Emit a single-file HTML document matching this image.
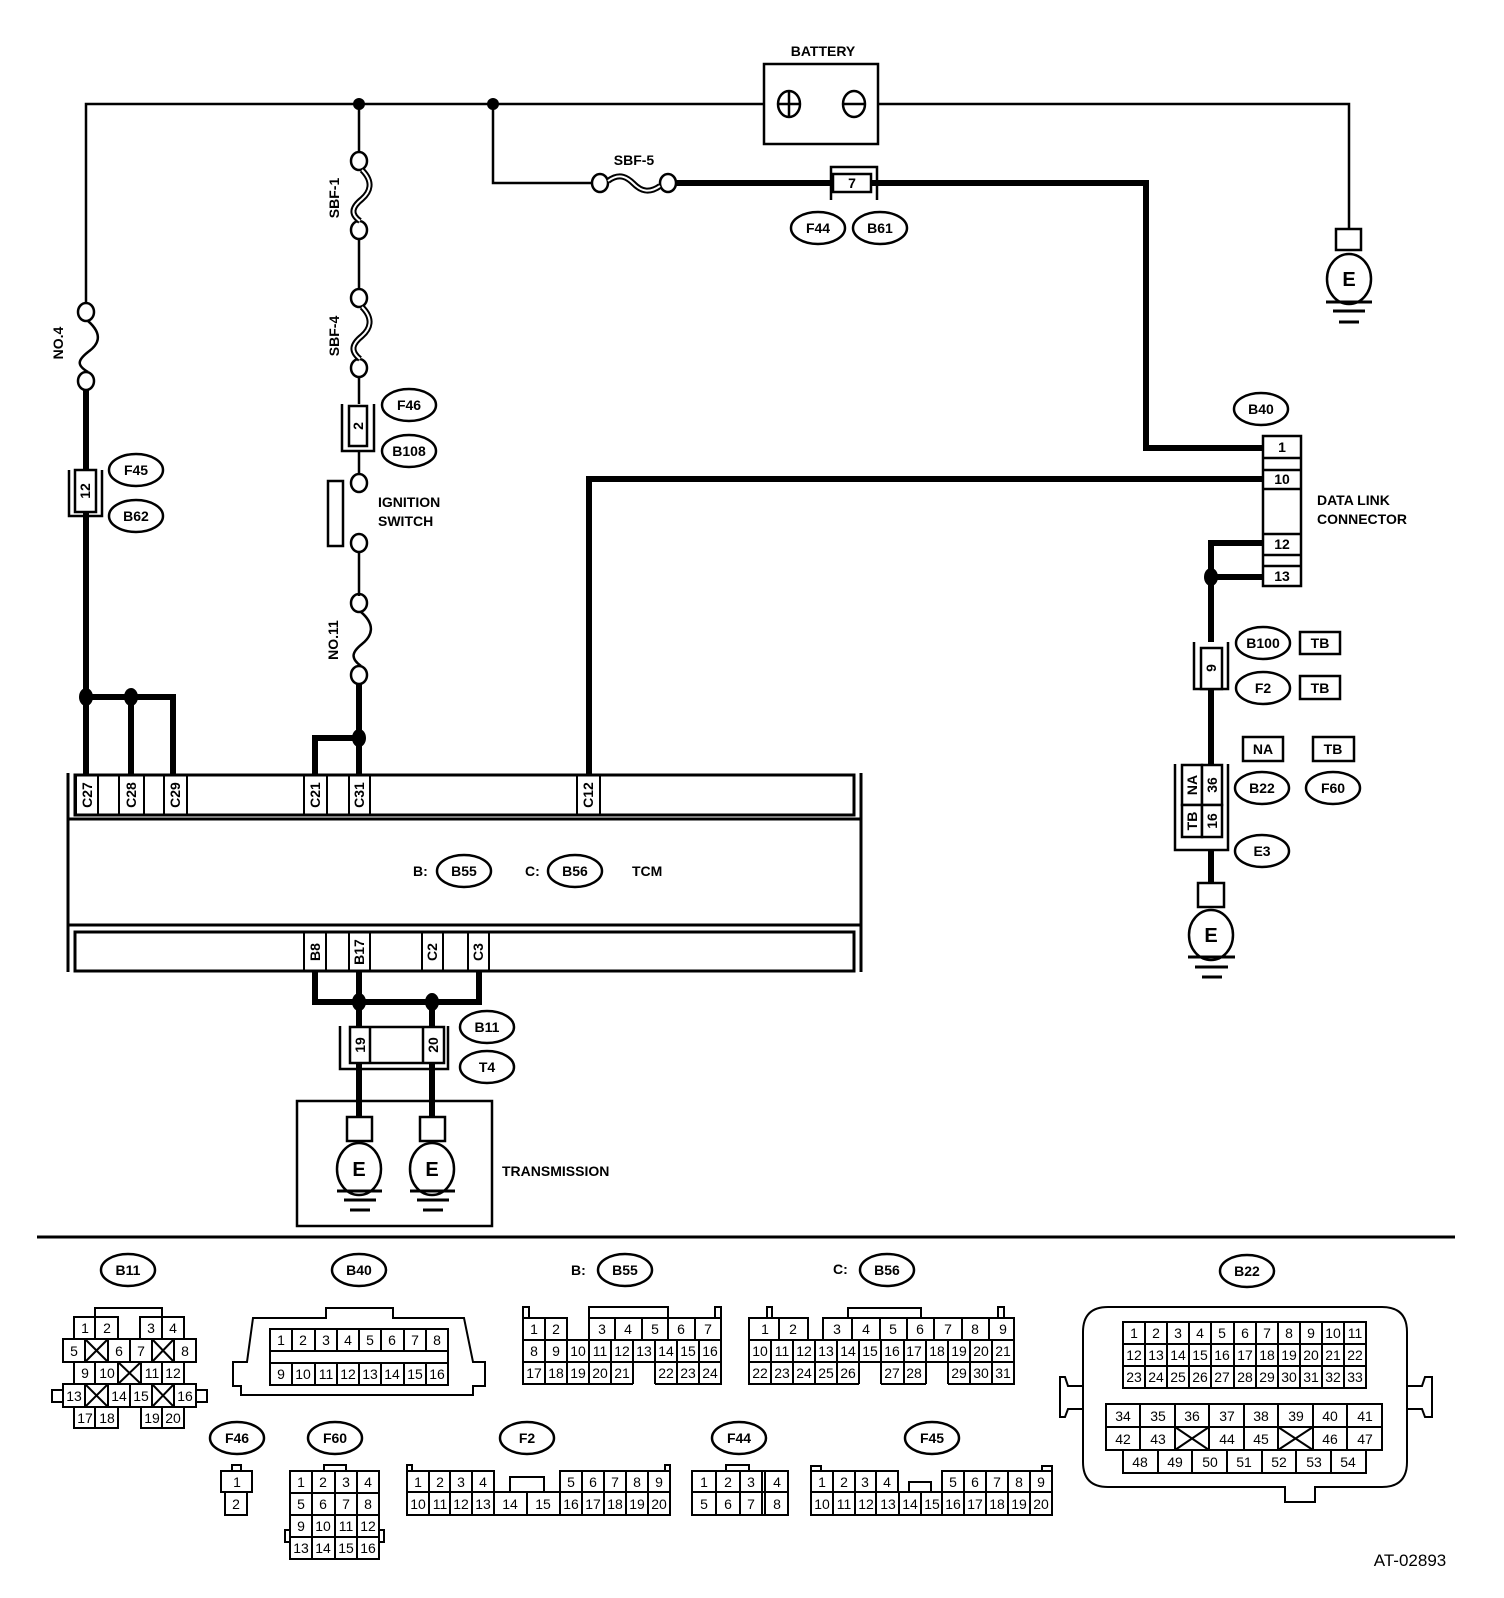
<!DOCTYPE html>
<html><head><meta charset="utf-8"><style>
html,body{margin:0;padding:0;background:#fff}
svg{display:block}
.s{font:bold 14px "Liberation Sans",sans-serif;fill:#000}
.n{font:14px "Liberation Sans",sans-serif;fill:#000;text-anchor:middle}
.c{text-anchor:middle}
</style></head><body>
<svg width="1504" height="1598" viewBox="0 0 1504 1598" xmlns="http://www.w3.org/2000/svg">
<g fill="none" stroke="#000" stroke-width="2.5">
<polyline points="86,304 86,104 764,104"/>
<polyline points="878,104 1349,104 1349,229"/>
<line x1="359" y1="104" x2="359" y2="153"/>
<line x1="359" y1="238" x2="359" y2="290"/>
<line x1="359" y1="376" x2="359" y2="404"/>
<line x1="359" y1="451" x2="359" y2="475"/>
<line x1="359" y1="551" x2="359" y2="596"/>
<polyline points="493,104 493,183 592,183"/>
<rect x="764" y="64" width="114" height="80"/>
<ellipse cx="789" cy="104" rx="11" ry="13"/>
<line x1="778" y1="104" x2="800" y2="104"/><line x1="789" y1="91" x2="789" y2="117"/>
<ellipse cx="854" cy="104" rx="11" ry="13"/>
<line x1="843" y1="104" x2="865" y2="104"/>
<ellipse cx="86" cy="312" rx="8" ry="9"/><ellipse cx="86" cy="381" rx="8" ry="9"/>
<path d="M88,321 C104,335 98,345 88,352 C78,360 76,365 88,372"/>
<ellipse cx="359" cy="161" rx="8" ry="9"/><ellipse cx="359" cy="230" rx="8" ry="9"/>
<ellipse cx="359" cy="298" rx="8" ry="9"/><ellipse cx="359" cy="368" rx="8" ry="9"/>
<ellipse cx="359" cy="603" rx="8" ry="9"/><ellipse cx="359" cy="675" rx="8" ry="9"/>
<path d="M361,612 C376,625 372,636 362,644 C352,652 350,658 361,666"/>
<ellipse cx="600" cy="183" rx="8" ry="9"/><ellipse cx="668" cy="183" rx="8" ry="9"/>
<ellipse cx="359" cy="483" rx="8" ry="9"/><ellipse cx="359" cy="543" rx="8" ry="9"/>
<rect x="328" y="481" width="15" height="65"/>
</g>
<g fill="none" stroke="#000" stroke-width="6">
<path d="M362,170 C374,182 370,192 362,199 C352,207 350,214 360,221"/>
<path d="M362,307 C374,319 370,329 362,336 C352,344 350,351 360,359"/>
<path d="M608,181 C620,172 628,178 634,184 C642,192 650,193 660,186"/>
</g>
<g fill="none" stroke="#fff" stroke-width="2">
<path d="M362,170 C374,182 370,192 362,199 C352,207 350,214 360,221"/>
<path d="M362,307 C374,319 370,329 362,336 C352,344 350,351 360,359"/>
<path d="M608,181 C620,172 628,178 634,184 C642,192 650,193 660,186"/>
</g>
<g fill="none" stroke="#000" stroke-width="6">
<line x1="86" y1="390" x2="86" y2="775"/>
<polyline points="86,697 173,697 173,775"/>
<line x1="131" y1="697" x2="131" y2="775"/>
<line x1="359" y1="684" x2="359" y2="775"/>
<polyline points="359,738 315,738 315,775"/>
<polyline points="589,775 589,479 1263,479"/>
<polyline points="676,183 1146,183 1146,448 1263,448"/>
<polyline points="1263,543 1211,543 1211,642"/>
<line x1="1211" y1="577" x2="1263" y2="577"/>
<line x1="1211" y1="689" x2="1211" y2="764"/>
<line x1="1211" y1="850" x2="1211" y2="883"/>
<polyline points="315,971 315,1002 432,1002"/>
<polyline points="359,971 359,1026"/>
<polyline points="479,971 479,1002 432,1002 432,1026"/>
<line x1="359" y1="1063" x2="359" y2="1117"/>
<line x1="432" y1="1063" x2="432" y2="1117"/>
</g>
<g fill="#000">
<circle cx="359" cy="104" r="6"/><circle cx="493" cy="104" r="6"/>
<ellipse cx="86" cy="697" rx="7" ry="9"/><ellipse cx="131" cy="697" rx="7" ry="9"/>
<ellipse cx="359" cy="738" rx="7" ry="9"/>
<ellipse cx="1211" cy="577" rx="7" ry="9"/>
<ellipse cx="359" cy="1002" rx="7" ry="9"/><ellipse cx="432" cy="1002" rx="7" ry="9"/>
</g>
<g fill="#fff" stroke="#000" stroke-width="2.5">
<polyline fill="none" points="69,470 69,516 102,516 102,470"/>
<rect x="75" y="470" width="21" height="42"/>
<polyline fill="none" points="342,404 342,451 374,451 374,404"/>
<rect x="349" y="406" width="18" height="40"/>
<polyline fill="none" points="831,200 831,167 877,167 877,200"/>
<rect x="833" y="174" width="38" height="18"/>
<polyline fill="none" points="1194,642 1194,689 1228,689 1228,642"/>
<rect x="1201" y="648" width="21" height="41"/>
<polyline fill="none" points="1175,764 1175,850 1228,850 1228,764"/>
<rect x="1182" y="765" width="20" height="40"/><rect x="1202" y="765" width="20" height="40"/>
<rect x="1182" y="805" width="20" height="32"/><rect x="1202" y="805" width="20" height="32"/>
<polyline fill="none" points="340,1026 340,1069 448,1069 448,1026"/>
<rect x="350" y="1027" width="94" height="36"/>
<line x1="370" y1="1027" x2="370" y2="1063"/><line x1="423" y1="1027" x2="423" y2="1063"/>
<rect x="1263" y="436" width="38" height="150"/>
<line x1="1263" y1="458" x2="1301" y2="458"/><line x1="1263" y1="470" x2="1301" y2="470"/>
<line x1="1263" y1="489" x2="1301" y2="489"/><line x1="1263" y1="534" x2="1301" y2="534"/>
<line x1="1263" y1="555" x2="1301" y2="555"/><line x1="1263" y1="566" x2="1301" y2="566"/>
<rect x="1336" y="229" width="25" height="21"/>
<ellipse cx="1349" cy="279" rx="22" ry="25"/>
<rect x="1198" y="883" width="26" height="24"/>
<ellipse cx="1211" cy="935" rx="22" ry="25"/>
<rect x="297" y="1101" width="195" height="125" fill="none"/>
<rect x="347" y="1117" width="25" height="24"/>
<ellipse cx="359" cy="1169" rx="22" ry="26"/>
<rect x="420" y="1117" width="25" height="24"/>
<ellipse cx="432" cy="1169" rx="22" ry="26"/>
</g>
<g stroke="#000" stroke-width="3">
<line x1="1326" y1="302" x2="1372" y2="302"/><line x1="1333" y1="311" x2="1365" y2="311"/><line x1="1339" y1="322" x2="1359" y2="322"/>
<line x1="1188" y1="957" x2="1235" y2="957"/><line x1="1195" y1="967" x2="1228" y2="967"/><line x1="1202" y1="977" x2="1222" y2="977"/>
<line x1="337" y1="1191" x2="382" y2="1191"/><line x1="344" y1="1200" x2="376" y2="1200"/><line x1="350" y1="1210" x2="370" y2="1210"/>
<line x1="410" y1="1191" x2="455" y2="1191"/><line x1="417" y1="1200" x2="449" y2="1200"/><line x1="423" y1="1210" x2="443" y2="1210"/>
<line x1="37" y1="1237" x2="1455" y2="1237"/>
</g>
<g fill="none" stroke="#000" stroke-width="3">
<line x1="68" y1="773" x2="68" y2="972"/><line x1="861" y1="773" x2="861" y2="972"/>
<rect x="75" y="775" width="779" height="40"/>
<line x1="68" y1="819" x2="861" y2="819"/><line x1="68" y1="925" x2="861" y2="925"/>
<rect x="75" y="932" width="779" height="39"/>
</g>
<g fill="none" stroke="#000" stroke-width="2">
<rect x="76" y="775" width="22" height="40"/><rect x="119" y="775" width="25" height="40"/><rect x="164" y="775" width="23" height="40"/>
<rect x="304" y="775" width="23" height="40"/><rect x="349" y="775" width="21" height="40"/><rect x="577" y="775" width="23" height="40"/>
<rect x="304" y="932" width="22" height="39"/><rect x="349" y="932" width="21" height="39"/><rect x="422" y="932" width="21" height="39"/><rect x="468" y="932" width="21" height="39"/>
</g>
<g fill="none" stroke="#000" stroke-width="2.5">
<ellipse cx="136" cy="470" rx="27" ry="16"/><ellipse cx="136" cy="516" rx="27" ry="16"/>
<ellipse cx="409" cy="405" rx="27" ry="16"/><ellipse cx="409" cy="451" rx="27" ry="16"/>
<ellipse cx="818" cy="228" rx="27" ry="16"/><ellipse cx="880" cy="228" rx="27" ry="16"/>
<ellipse cx="1261" cy="409" rx="27" ry="16"/>
<ellipse cx="1263" cy="643" rx="27" ry="16"/><ellipse cx="1263" cy="688" rx="27" ry="16"/>
<ellipse cx="1262" cy="788" rx="27" ry="16"/><ellipse cx="1333" cy="788" rx="27" ry="16"/><ellipse cx="1262" cy="851" rx="27" ry="16"/>
<ellipse cx="464" cy="871" rx="27" ry="16"/><ellipse cx="575" cy="871" rx="27" ry="16"/>
<ellipse cx="487" cy="1027" rx="27" ry="16"/><ellipse cx="487" cy="1067" rx="27" ry="16"/>
<ellipse cx="128" cy="1270" rx="27" ry="16"/><ellipse cx="359" cy="1270" rx="27" ry="16"/><ellipse cx="625" cy="1270" rx="27" ry="16"/>
<ellipse cx="887" cy="1270" rx="27" ry="16"/><ellipse cx="1247" cy="1271" rx="27" ry="16"/>
<ellipse cx="237" cy="1438" rx="27" ry="16"/><ellipse cx="335" cy="1438" rx="27" ry="16"/><ellipse cx="527" cy="1438" rx="27" ry="16"/>
<ellipse cx="739" cy="1438" rx="27" ry="16"/><ellipse cx="932" cy="1438" rx="27" ry="16"/>
<rect x="1300" y="632" width="40" height="22"/><rect x="1300" y="676" width="40" height="23"/>
<rect x="1243" y="737" width="40" height="24"/><rect x="1313" y="737" width="41" height="24"/>
</g>
<g class="s c">
<text x="136" y="475">F45</text><text x="136" y="521">B62</text>
<text x="409" y="410">F46</text><text x="409" y="456">B108</text>
<text x="818" y="233">F44</text><text x="880" y="233">B61</text>
<text x="1261" y="414">B40</text>
<text x="1263" y="648">B100</text><text x="1263" y="693">F2</text>
<text x="1320" y="648">TB</text><text x="1320" y="693">TB</text>
<text x="1263" y="754">NA</text><text x="1333" y="754">TB</text>
<text x="1262" y="793">B22</text><text x="1333" y="793">F60</text><text x="1262" y="856">E3</text>
<text x="464" y="876">B55</text><text x="575" y="876">B56</text>
<text x="487" y="1032">B11</text><text x="487" y="1072">T4</text>
<text x="128" y="1275">B11</text><text x="359" y="1275">B40</text><text x="625" y="1275">B55</text>
<text x="887" y="1275">B56</text><text x="1247" y="1276">B22</text>
<text x="237" y="1443">F46</text><text x="335" y="1443">F60</text><text x="527" y="1443">F2</text>
<text x="739" y="1443">F44</text><text x="932" y="1443">F45</text>
<text x="823" y="56">BATTERY</text><text x="634" y="165">SBF-5</text>
<text x="852" y="188">7</text>
<text x="1282" y="452">1</text><text x="1282" y="484">10</text><text x="1282" y="549">12</text><text x="1282" y="581">13</text>
<text x="1349" y="286" style="font-size:20px">E</text><text x="1211" y="942" style="font-size:20px">E</text>
<text x="359" y="1176" style="font-size:20px">E</text><text x="432" y="1176" style="font-size:20px">E</text>
</g>
<g class="s">
<text x="378" y="507">IGNITION</text><text x="378" y="526">SWITCH</text>
<text x="1317" y="505">DATA LINK</text><text x="1317" y="524">CONNECTOR</text>
<text x="413" y="876">B:</text><text x="525" y="876">C:</text><text x="632" y="876">TCM</text>
<text x="502" y="1176">TRANSMISSION</text>
<text x="571" y="1275">B:</text><text x="833" y="1274">C:</text>
</g>
<g class="s c">
<text transform="translate(63,343) rotate(-90)">NO.4</text>
<text transform="translate(339,198) rotate(-90)">SBF-1</text>
<text transform="translate(339,336) rotate(-90)">SBF-4</text>
<text transform="translate(338,640) rotate(-90)">NO.11</text>
<text transform="translate(90,491) rotate(-90)">12</text>
<text transform="translate(363,426) rotate(-90)">2</text>
<text transform="translate(1216,668) rotate(-90)">9</text>
<text transform="translate(1197,785) rotate(-90)">NA</text>
<text transform="translate(1217,785) rotate(-90)">36</text>
<text transform="translate(1197,821) rotate(-90)">TB</text>
<text transform="translate(1217,821) rotate(-90)">16</text>
<text transform="translate(365,1045) rotate(-90)">19</text>
<text transform="translate(438,1045) rotate(-90)">20</text>
<text transform="translate(92,795) rotate(-90)">C27</text>
<text transform="translate(136,795) rotate(-90)">C28</text>
<text transform="translate(180,795) rotate(-90)">C29</text>
<text transform="translate(320,795) rotate(-90)">C21</text>
<text transform="translate(364,795) rotate(-90)">C31</text>
<text transform="translate(593,795) rotate(-90)">C12</text>
<text transform="translate(320,952) rotate(-90)">B8</text>
<text transform="translate(364,952) rotate(-90)">B17</text>
<text transform="translate(437,952) rotate(-90)">C2</text>
<text transform="translate(483,952) rotate(-90)">C3</text>
</g>
<g fill="none" stroke="#000" stroke-width="2">
<polyline points="95,1317 95,1308 162,1308 162,1317"/>
<rect x="74" y="1317" width="21" height="22"/><rect x="95" y="1317" width="23" height="22"/><rect x="140" y="1317" width="22" height="22"/><rect x="162" y="1317" width="22" height="22"/>
<rect x="63" y="1339" width="133" height="23"/>
<line x1="85" y1="1339" x2="85" y2="1362"/><line x1="108" y1="1339" x2="108" y2="1362"/><line x1="130" y1="1339" x2="130" y2="1362"/><line x1="152" y1="1339" x2="152" y2="1362"/><line x1="174" y1="1339" x2="174" y2="1362"/>
<line x1="85" y1="1339" x2="108" y2="1362"/><line x1="108" y1="1339" x2="85" y2="1362"/>
<line x1="152" y1="1339" x2="174" y2="1362"/><line x1="174" y1="1339" x2="152" y2="1362"/>
<rect x="74" y="1362" width="110" height="22"/>
<line x1="95" y1="1362" x2="95" y2="1384"/><line x1="118" y1="1362" x2="118" y2="1384"/><line x1="141" y1="1362" x2="141" y2="1384"/><line x1="162" y1="1362" x2="162" y2="1384"/>
<line x1="118" y1="1362" x2="141" y2="1384"/><line x1="141" y1="1362" x2="118" y2="1384"/>
<rect x="63" y="1384" width="133" height="23"/>
<line x1="85" y1="1384" x2="85" y2="1407"/><line x1="108" y1="1384" x2="108" y2="1407"/><line x1="130" y1="1384" x2="130" y2="1407"/><line x1="152" y1="1384" x2="152" y2="1407"/><line x1="174" y1="1384" x2="174" y2="1407"/>
<line x1="85" y1="1384" x2="108" y2="1407"/><line x1="108" y1="1384" x2="85" y2="1407"/>
<line x1="152" y1="1384" x2="174" y2="1407"/><line x1="174" y1="1384" x2="152" y2="1407"/>
<rect x="52" y="1390" width="11" height="12"/><rect x="196" y="1390" width="11" height="12"/>
<rect x="74" y="1407" width="21" height="21"/><rect x="95" y="1407" width="23" height="21"/><rect x="141" y="1407" width="21" height="21"/><rect x="162" y="1407" width="22" height="21"/>
<polygon points="253,1318 326,1318 326,1308 393,1308 393,1318 464,1318 473,1362 485,1362 485,1386 473,1386 473,1395 241,1395 241,1386 233,1386 233,1362 247,1362"/>
<rect x="270" y="1329" width="178" height="56"/>
<line x1="270" y1="1351" x2="448" y2="1351"/><line x1="270" y1="1363" x2="448" y2="1363"/>
<line x1="292" y1="1329" x2="292" y2="1351"/><line x1="315" y1="1329" x2="315" y2="1351"/><line x1="337" y1="1329" x2="337" y2="1351"/><line x1="359" y1="1329" x2="359" y2="1351"/><line x1="381" y1="1329" x2="381" y2="1351"/><line x1="404" y1="1329" x2="404" y2="1351"/><line x1="426" y1="1329" x2="426" y2="1351"/>
<line x1="292" y1="1363" x2="292" y2="1385"/><line x1="315" y1="1363" x2="315" y2="1385"/><line x1="337" y1="1363" x2="337" y2="1385"/><line x1="359" y1="1363" x2="359" y2="1385"/><line x1="381" y1="1363" x2="381" y2="1385"/><line x1="404" y1="1363" x2="404" y2="1385"/><line x1="426" y1="1363" x2="426" y2="1385"/>
<rect x="523" y="1307" width="6" height="11"/><rect x="715" y="1307" width="6" height="11"/>
<polyline points="589,1318 589,1307 668,1307 668,1318"/>
<rect x="523" y="1318" width="22" height="22"/><rect x="545" y="1318" width="22" height="22"/>
<rect x="589" y="1318" width="132" height="22"/>
<line x1="615" y1="1318" x2="615" y2="1340"/><line x1="642" y1="1318" x2="642" y2="1340"/><line x1="668" y1="1318" x2="668" y2="1340"/><line x1="695" y1="1318" x2="695" y2="1340"/>
<rect x="523" y="1340" width="198" height="22"/>
<line x1="545" y1="1340" x2="545" y2="1384"/><line x1="567" y1="1340" x2="567" y2="1384"/><line x1="589" y1="1340" x2="589" y2="1384"/><line x1="611" y1="1340" x2="611" y2="1384"/><line x1="633" y1="1340" x2="633" y2="1384"/><line x1="655" y1="1340" x2="655" y2="1384"/><line x1="677" y1="1340" x2="677" y2="1384"/><line x1="699" y1="1340" x2="699" y2="1384"/>
<polyline points="523,1362 523,1384 633,1384"/><polyline points="655,1384 721,1384 721,1362"/>
<rect x="767" y="1307" width="5" height="11"/><rect x="998" y="1307" width="6" height="11"/>
<polyline points="848,1318 848,1308 921,1308 921,1318"/>
<rect x="749" y="1318" width="59" height="22"/><line x1="779" y1="1318" x2="779" y2="1340"/>
<rect x="823" y="1318" width="191" height="22"/>
<line x1="852" y1="1318" x2="852" y2="1340"/><line x1="880" y1="1318" x2="880" y2="1340"/><line x1="907" y1="1318" x2="907" y2="1340"/><line x1="934" y1="1318" x2="934" y2="1340"/><line x1="962" y1="1318" x2="962" y2="1340"/><line x1="989" y1="1318" x2="989" y2="1340"/>
<rect x="749" y="1340" width="265" height="22"/>
<line x1="771" y1="1340" x2="771" y2="1384"/><line x1="793" y1="1340" x2="793" y2="1384"/><line x1="815" y1="1340" x2="815" y2="1384"/><line x1="837" y1="1340" x2="837" y2="1384"/><line x1="859" y1="1340" x2="859" y2="1384"/><line x1="881" y1="1340" x2="881" y2="1384"/><line x1="904" y1="1340" x2="904" y2="1384"/><line x1="926" y1="1340" x2="926" y2="1384"/><line x1="948" y1="1340" x2="948" y2="1384"/><line x1="970" y1="1340" x2="970" y2="1384"/><line x1="992" y1="1340" x2="992" y2="1384"/>
<polyline points="749,1362 749,1384 859,1384"/><line x1="881" y1="1384" x2="926" y2="1384"/><polyline points="948,1384 1014,1384 1014,1362"/>
<rect x="232" y="1465" width="9" height="6"/><rect x="221" y="1471" width="31" height="21"/><rect x="225" y="1492" width="22" height="23"/>
<rect x="324" y="1465" width="22" height="6"/>
<rect x="290" y="1471" width="89" height="88"/>
<line x1="312" y1="1471" x2="312" y2="1559"/><line x1="335" y1="1471" x2="335" y2="1559"/><line x1="357" y1="1471" x2="357" y2="1559"/>
<line x1="290" y1="1493" x2="379" y2="1493"/><line x1="290" y1="1515" x2="379" y2="1515"/><line x1="290" y1="1537" x2="379" y2="1537"/>
<rect x="285" y="1530" width="5" height="12"/><rect x="379" y="1530" width="5" height="12"/>
<rect x="407" y="1465" width="5" height="6"/><rect x="665" y="1465" width="5" height="6"/>
<rect x="407" y="1471" width="87" height="21"/><rect x="560" y="1471" width="110" height="21"/>
<rect x="510" y="1477" width="34" height="15"/>
<rect x="407" y="1492" width="263" height="23"/>
<line x1="429" y1="1471" x2="429" y2="1515"/><line x1="450" y1="1471" x2="450" y2="1515"/><line x1="472" y1="1471" x2="472" y2="1515"/><line x1="494" y1="1492" x2="494" y2="1515"/><line x1="527" y1="1492" x2="527" y2="1515"/>
<line x1="582" y1="1471" x2="582" y2="1515"/><line x1="604" y1="1471" x2="604" y2="1515"/><line x1="626" y1="1471" x2="626" y2="1515"/><line x1="648" y1="1471" x2="648" y2="1515"/><line x1="560" y1="1492" x2="560" y2="1515"/>
<rect x="726" y="1465" width="23" height="6"/>
<rect x="692" y="1471" width="96" height="44"/><line x1="692" y1="1492" x2="788" y2="1492"/>
<line x1="716" y1="1471" x2="716" y2="1515"/><line x1="740" y1="1471" x2="740" y2="1515"/><line x1="762" y1="1471" x2="762" y2="1515"/><line x1="765" y1="1471" x2="765" y2="1515"/>
<rect x="811" y="1466" width="10" height="5"/><rect x="1042" y="1466" width="10" height="5"/>
<rect x="811" y="1471" width="87" height="21"/><rect x="942" y="1471" width="110" height="21"/>
<rect x="909" y="1482" width="22" height="10"/>
<rect x="811" y="1492" width="241" height="23"/>
<line x1="833" y1="1471" x2="833" y2="1515"/><line x1="855" y1="1471" x2="855" y2="1515"/><line x1="876" y1="1471" x2="876" y2="1515"/>
<line x1="899" y1="1492" x2="899" y2="1515"/><line x1="921" y1="1492" x2="921" y2="1515"/><line x1="942" y1="1492" x2="942" y2="1515"/>
<line x1="964" y1="1471" x2="964" y2="1515"/><line x1="986" y1="1471" x2="986" y2="1515"/><line x1="1008" y1="1471" x2="1008" y2="1515"/><line x1="1030" y1="1471" x2="1030" y2="1515"/>
<path d="M1108,1307 H1382 Q1407,1307 1407,1332 V1462 Q1407,1487 1382,1487 H1315 V1502 H1285 V1487 H1108 Q1083,1487 1083,1462 V1332 Q1083,1307 1108,1307 Z"/>
<polyline points="1407,1386 1422,1386 1425,1377 1432,1377 1432,1417 1425,1417 1422,1409 1407,1409"/>
<polyline points="1083,1386 1068,1386 1065,1377 1060,1377 1060,1417 1065,1417 1068,1409 1083,1409"/>
<rect x="1123" y="1322" width="243" height="66"/>
<line x1="1123" y1="1344" x2="1366" y2="1344"/><line x1="1123" y1="1366" x2="1366" y2="1366"/>
<line x1="1145" y1="1322" x2="1145" y2="1388"/><line x1="1167" y1="1322" x2="1167" y2="1388"/><line x1="1189" y1="1322" x2="1189" y2="1388"/><line x1="1211" y1="1322" x2="1211" y2="1388"/><line x1="1234" y1="1322" x2="1234" y2="1388"/><line x1="1256" y1="1322" x2="1256" y2="1388"/><line x1="1278" y1="1322" x2="1278" y2="1388"/><line x1="1300" y1="1322" x2="1300" y2="1388"/><line x1="1322" y1="1322" x2="1322" y2="1388"/><line x1="1344" y1="1322" x2="1344" y2="1388"/>
<rect x="1106" y="1404" width="276" height="46"/><line x1="1106" y1="1427" x2="1382" y2="1427"/>
<line x1="1140" y1="1404" x2="1140" y2="1450"/><line x1="1175" y1="1404" x2="1175" y2="1450"/><line x1="1209" y1="1404" x2="1209" y2="1450"/><line x1="1244" y1="1404" x2="1244" y2="1450"/><line x1="1278" y1="1404" x2="1278" y2="1450"/><line x1="1313" y1="1404" x2="1313" y2="1450"/><line x1="1347" y1="1404" x2="1347" y2="1450"/>
<line x1="1175" y1="1427" x2="1209" y2="1450"/><line x1="1209" y1="1427" x2="1175" y2="1450"/>
<line x1="1278" y1="1427" x2="1313" y2="1450"/><line x1="1313" y1="1427" x2="1278" y2="1450"/>
<rect x="1123" y="1450" width="243" height="23"/>
<line x1="1158" y1="1450" x2="1158" y2="1473"/><line x1="1192" y1="1450" x2="1192" y2="1473"/><line x1="1227" y1="1450" x2="1227" y2="1473"/><line x1="1262" y1="1450" x2="1262" y2="1473"/><line x1="1296" y1="1450" x2="1296" y2="1473"/><line x1="1331" y1="1450" x2="1331" y2="1473"/>
</g>
<g class="n">
<text x="85" y="1333">1</text><text x="107" y="1333">2</text><text x="151" y="1333">3</text><text x="173" y="1333">4</text>
<text x="74" y="1356">5</text><text x="119" y="1356">6</text><text x="141" y="1356">7</text><text x="185" y="1356">8</text>
<text x="85" y="1378">9</text><text x="107" y="1378">10</text><text x="152" y="1378">11</text><text x="173" y="1378">12</text>
<text x="74" y="1401">13</text><text x="119" y="1401">14</text><text x="141" y="1401">15</text><text x="185" y="1401">16</text>
<text x="85" y="1423">17</text><text x="107" y="1423">18</text><text x="152" y="1423">19</text><text x="173" y="1423">20</text>
<text x="281" y="1345">1</text><text x="303" y="1345">2</text><text x="326" y="1345">3</text><text x="348" y="1345">4</text><text x="370" y="1345">5</text><text x="392" y="1345">6</text><text x="415" y="1345">7</text><text x="437" y="1345">8</text>
<text x="281" y="1379">9</text><text x="303" y="1379">10</text><text x="326" y="1379">11</text><text x="348" y="1379">12</text><text x="370" y="1379">13</text><text x="392" y="1379">14</text><text x="415" y="1379">15</text><text x="437" y="1379">16</text>
<text x="534" y="1334">1</text><text x="556" y="1334">2</text><text x="602" y="1334">3</text><text x="628" y="1334">4</text><text x="655" y="1334">5</text><text x="681" y="1334">6</text><text x="708" y="1334">7</text>
<text x="534" y="1356">8</text><text x="556" y="1356">9</text><text x="578" y="1356">10</text><text x="600" y="1356">11</text><text x="622" y="1356">12</text><text x="644" y="1356">13</text><text x="666" y="1356">14</text><text x="688" y="1356">15</text><text x="710" y="1356">16</text>
<text x="534" y="1378">17</text><text x="556" y="1378">18</text><text x="578" y="1378">19</text><text x="600" y="1378">20</text><text x="622" y="1378">21</text><text x="666" y="1378">22</text><text x="688" y="1378">23</text><text x="710" y="1378">24</text>
<text x="765" y="1334">1</text><text x="793" y="1334">2</text><text x="837" y="1334">3</text><text x="866" y="1334">4</text><text x="893" y="1334">5</text><text x="920" y="1334">6</text><text x="948" y="1334">7</text><text x="975" y="1334">8</text><text x="1003" y="1334">9</text>
<text x="760" y="1356">10</text><text x="782" y="1356">11</text><text x="804" y="1356">12</text><text x="826" y="1356">13</text><text x="848" y="1356">14</text><text x="870" y="1356">15</text><text x="892" y="1356">16</text><text x="914" y="1356">17</text><text x="937" y="1356">18</text><text x="959" y="1356">19</text><text x="981" y="1356">20</text><text x="1003" y="1356">21</text>
<text x="760" y="1378">22</text><text x="782" y="1378">23</text><text x="804" y="1378">24</text><text x="826" y="1378">25</text><text x="848" y="1378">26</text><text x="892" y="1378">27</text><text x="914" y="1378">28</text><text x="959" y="1378">29</text><text x="981" y="1378">30</text><text x="1003" y="1378">31</text>
<text x="237" y="1487">1</text><text x="236" y="1509">2</text>
<text x="301" y="1487">1</text><text x="323" y="1487">2</text><text x="346" y="1487">3</text><text x="368" y="1487">4</text>
<text x="301" y="1509">5</text><text x="323" y="1509">6</text><text x="346" y="1509">7</text><text x="368" y="1509">8</text>
<text x="301" y="1531">9</text><text x="323" y="1531">10</text><text x="346" y="1531">11</text><text x="368" y="1531">12</text>
<text x="301" y="1553">13</text><text x="323" y="1553">14</text><text x="346" y="1553">15</text><text x="368" y="1553">16</text>
<text x="418" y="1487">1</text><text x="440" y="1487">2</text><text x="461" y="1487">3</text><text x="483" y="1487">4</text>
<text x="571" y="1487">5</text><text x="593" y="1487">6</text><text x="615" y="1487">7</text><text x="637" y="1487">8</text><text x="659" y="1487">9</text>
<text x="418" y="1509">10</text><text x="440" y="1509">11</text><text x="461" y="1509">12</text><text x="483" y="1509">13</text><text x="510" y="1509">14</text><text x="543" y="1509">15</text>
<text x="571" y="1509">16</text><text x="593" y="1509">17</text><text x="615" y="1509">18</text><text x="637" y="1509">19</text><text x="659" y="1509">20</text>
<text x="704" y="1487">1</text><text x="728" y="1487">2</text><text x="751" y="1487">3</text><text x="777" y="1487">4</text>
<text x="704" y="1509">5</text><text x="728" y="1509">6</text><text x="751" y="1509">7</text><text x="777" y="1509">8</text>
<text x="822" y="1487">1</text><text x="844" y="1487">2</text><text x="865" y="1487">3</text><text x="887" y="1487">4</text>
<text x="953" y="1487">5</text><text x="975" y="1487">6</text><text x="997" y="1487">7</text><text x="1019" y="1487">8</text><text x="1041" y="1487">9</text>
<text x="822" y="1509">10</text><text x="844" y="1509">11</text><text x="866" y="1509">12</text><text x="888" y="1509">13</text><text x="910" y="1509">14</text><text x="932" y="1509">15</text><text x="953" y="1509">16</text><text x="975" y="1509">17</text><text x="997" y="1509">18</text><text x="1019" y="1509">19</text><text x="1041" y="1509">20</text>
<text x="1134" y="1338">1</text><text x="1156" y="1338">2</text><text x="1178" y="1338">3</text><text x="1200" y="1338">4</text><text x="1222" y="1338">5</text><text x="1245" y="1338">6</text><text x="1267" y="1338">7</text><text x="1289" y="1338">8</text><text x="1311" y="1338">9</text><text x="1333" y="1338">10</text><text x="1355" y="1338">11</text>
<text x="1134" y="1360">12</text><text x="1156" y="1360">13</text><text x="1178" y="1360">14</text><text x="1200" y="1360">15</text><text x="1222" y="1360">16</text><text x="1245" y="1360">17</text><text x="1267" y="1360">18</text><text x="1289" y="1360">19</text><text x="1311" y="1360">20</text><text x="1333" y="1360">21</text><text x="1355" y="1360">22</text>
<text x="1134" y="1382">23</text><text x="1156" y="1382">24</text><text x="1178" y="1382">25</text><text x="1200" y="1382">26</text><text x="1222" y="1382">27</text><text x="1245" y="1382">28</text><text x="1267" y="1382">29</text><text x="1289" y="1382">30</text><text x="1311" y="1382">31</text><text x="1333" y="1382">32</text><text x="1355" y="1382">33</text>
<text x="1123" y="1421">34</text><text x="1158" y="1421">35</text><text x="1192" y="1421">36</text><text x="1227" y="1421">37</text><text x="1261" y="1421">38</text><text x="1296" y="1421">39</text><text x="1330" y="1421">40</text><text x="1365" y="1421">41</text>
<text x="1123" y="1444">42</text><text x="1158" y="1444">43</text><text x="1227" y="1444">44</text><text x="1261" y="1444">45</text><text x="1330" y="1444">46</text><text x="1365" y="1444">47</text>
<text x="1140" y="1467">48</text><text x="1175" y="1467">49</text><text x="1210" y="1467">50</text><text x="1244" y="1467">51</text><text x="1279" y="1467">52</text><text x="1314" y="1467">53</text><text x="1348" y="1467">54</text>
<text x="1410" y="1566" style="font-size:17px">AT-02893</text>
</g>
</svg>
</body></html>
